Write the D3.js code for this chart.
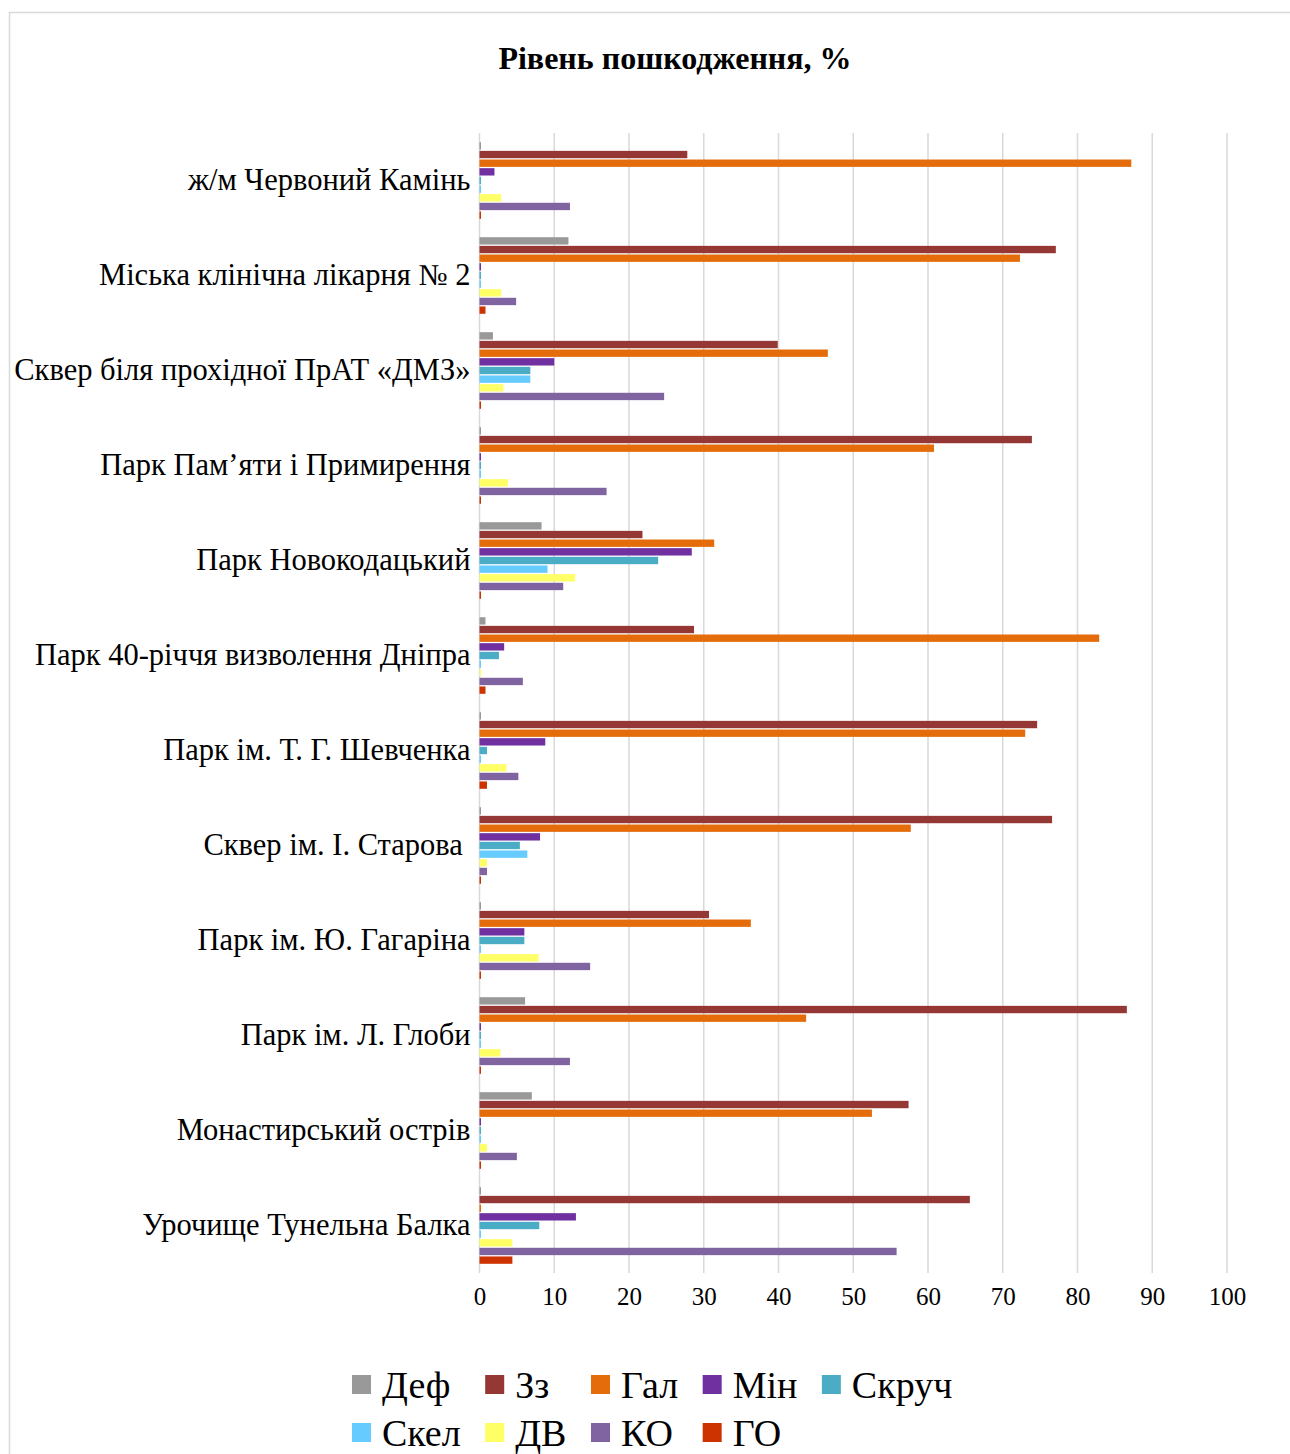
<!DOCTYPE html>
<html>
<head>
<meta charset="utf-8">
<script src="https://cdn.jsdelivr.net/npm/d3@7"></script>
<style>
  html, body { margin: 0; padding: 0; background: #fff; }
  svg { display: block; }
  text { font-family: "Liberation Serif", "Times New Roman", serif; fill: #000; }
</style>
</head>
<body>
<svg id="chart" width="1290" height="1454"></svg>
<script>
const title = "Рівень пошкодження, %";
const categories = [
  "ж/м Червоний Камінь",
  "Міська клінічна лікарня № 2",
  "Сквер біля прохідної ПрАТ «ДМЗ»",
  "Парк Пам’яти і Примирення",
  "Парк Новокодацький",
  "Парк 40-річчя визволення Дніпра",
  "Парк ім. Т. Г. Шевченка",
  "Сквер ім. І. Старова ",
  "Парк ім. Ю. Гагаріна",
  "Парк ім. Л. Глоби",
  "Монастирський острів",
  "Урочище Тунельна Балка"
];
const seriesNames = ["Деф", "Зз", "Гал", "Мін", "Скруч", "Скел", "ДВ", "КО", "ГО"];
const seriesColors = ["#999999", "#953735", "#E46C0A", "#7030A0", "#4BACC6", "#66CCFF", "#FFFF66", "#8064A2", "#CC3300"];

const defValues   = [0.2, 11.9, 1.8, 0.2, 8.3, 0.8, 0.2, 0.2, 0.2, 6.1, 7.0, 0.2];
const zzValues    = [27.8, 77.1, 39.9, 73.9, 21.8, 28.7, 74.6, 76.6, 30.7, 86.6, 57.4, 65.6];
const galValues   = [87.2, 72.3, 46.6, 60.8, 31.4, 82.9, 73.0, 57.7, 36.3, 43.7, 52.5, 0.2];
const minValues   = [2.0, 0.2, 10.0, 0.2, 28.4, 3.3, 8.8, 8.1, 6.0, 0.2, 0.2, 12.9];
const skruchValues= [0.2, 0.2, 6.8, 0.2, 23.9, 2.6, 1.0, 5.4, 6.0, 0.2, 0.2, 8.0];
const skelValues  = [0.2, 0.2, 6.8, 0.2, 9.1, 0.2, 0.2, 6.4, 0.2, 0.2, 0.2, 0.2];
const dvValues    = [2.9, 2.9, 3.2, 3.8, 12.8, 0.2, 3.6, 1.0, 7.9, 2.8, 1.0, 4.4];
const koValues    = [12.1, 4.9, 24.7, 17.0, 11.2, 5.8, 5.2, 1.0, 14.8, 12.1, 5.0, 55.8];
const goValues    = [0.2, 0.8, 0.2, 0.2, 0.2, 0.8, 1.0, 0.2, 0.2, 0.2, 0.2, 4.4];
const xTicks = [0, 10, 20, 30, 40, 50, 60, 70, 80, 90, 100];

const allSeries = [defValues, zzValues, galValues, minValues, skruchValues, skelValues, dvValues, koValues, goValues];

const svg = d3.select("#chart");
const serif = '"Liberation Serif", "Times New Roman", serif';

// outer chart border
svg.append("rect")
  .attr("x", 9.5).attr("y", 12.5)
  .attr("width", 1320).attr("height", 1500)
  .attr("fill", "#fff").attr("stroke", "#d9d9d9").attr("stroke-width", 1.5);

const plot = { left: 479.5, right: 1227, top: 133, bottom: 1273 };

const x = d3.scaleLinear().domain([0, 100]).range([plot.left, plot.right]);
const y0 = d3.scaleBand().domain(categories).range([plot.top, plot.bottom])
  .paddingInner(0.18).paddingOuter(0.09);
const y1 = d3.scaleBand().domain(seriesNames).range([0, y0.bandwidth()]).paddingInner(0.15).paddingOuter(0.075);

// title
svg.append("text")
  .attr("x", 675).attr("y", 69)
  .attr("text-anchor", "middle")
  .style("font-size", "32px").style("font-weight", "bold")
  .text(title);

// gridlines
svg.append("g").selectAll("line").data(xTicks).join("line")
  .attr("x1", d => x(d)).attr("x2", d => x(d))
  .attr("y1", plot.top).attr("y2", plot.bottom)
  .attr("stroke", "#d9d9d9").attr("stroke-width", 1.5);

// bars
const groups = svg.append("g").selectAll("g").data(categories).join("g")
  .attr("transform", c => `translate(0,${y0(c)})`);
groups.selectAll("rect")
  .data((c, i) => seriesNames.map((s, j) => ({ s, j, v: allSeries[j][i] })))
  .join("rect")
  .attr("x", x(0))
  .attr("y", d => y1(d.s))
  .attr("width", d => x(d.v) - x(0))
  .attr("height", y1.bandwidth())
  .attr("fill", d => seriesColors[d.j]);

// x axis
const xAxis = d3.axisBottom(x).tickValues(xTicks).tickSize(0).tickPadding(14);
const gx = svg.append("g").attr("transform", `translate(0,${plot.bottom})`).call(xAxis);
gx.select(".domain").remove();
gx.selectAll("text").style("font-size", "25px").style("font-family", serif).attr("fill", "#000");

// y axis labels
const yAxis = d3.axisLeft(y0).tickSize(0).tickPadding(9);
const gy = svg.append("g").attr("transform", `translate(${plot.left},0)`).call(yAxis);
gy.select(".domain").remove();
gy.selectAll("text").style("font-size", "30.5px").style("white-space", "pre")
  .style("font-family", serif).attr("fill", "#000");

// legend (grid of 5 columns)
const legendFont = 38;
const perRow = 5;
const legend = svg.append("g");
const items = legend.selectAll("g").data(seriesNames).join("g");
items.append("rect").attr("width", 19).attr("height", 19)
  .attr("fill", (d, i) => seriesColors[i]);
items.append("text").attr("x", 30).attr("y", 9.5).attr("dy", "0.35em")
  .style("font-size", legendFont + "px").text(d => d);
const widths = [];
items.each(function (d, i) {
  widths[i] = d3.select(this).select("text").node().getComputedTextLength();
});
const colW = [];
for (let c = 0; c < perRow; c++) {
  let m = 0;
  for (let i = c; i < seriesNames.length; i += perRow) m = Math.max(m, widths[i]);
  colW[c] = 30 + m + 24.5;
}
const colX = [0];
for (let c = 1; c < perRow; c++) colX[c] = colX[c - 1] + colW[c - 1];
const legendLeft = 352;
items.attr("transform", (d, i) => `translate(${legendLeft + colX[i % perRow]},${1375 + Math.floor(i / perRow) * 48})`);
</script>
</body>
</html>
